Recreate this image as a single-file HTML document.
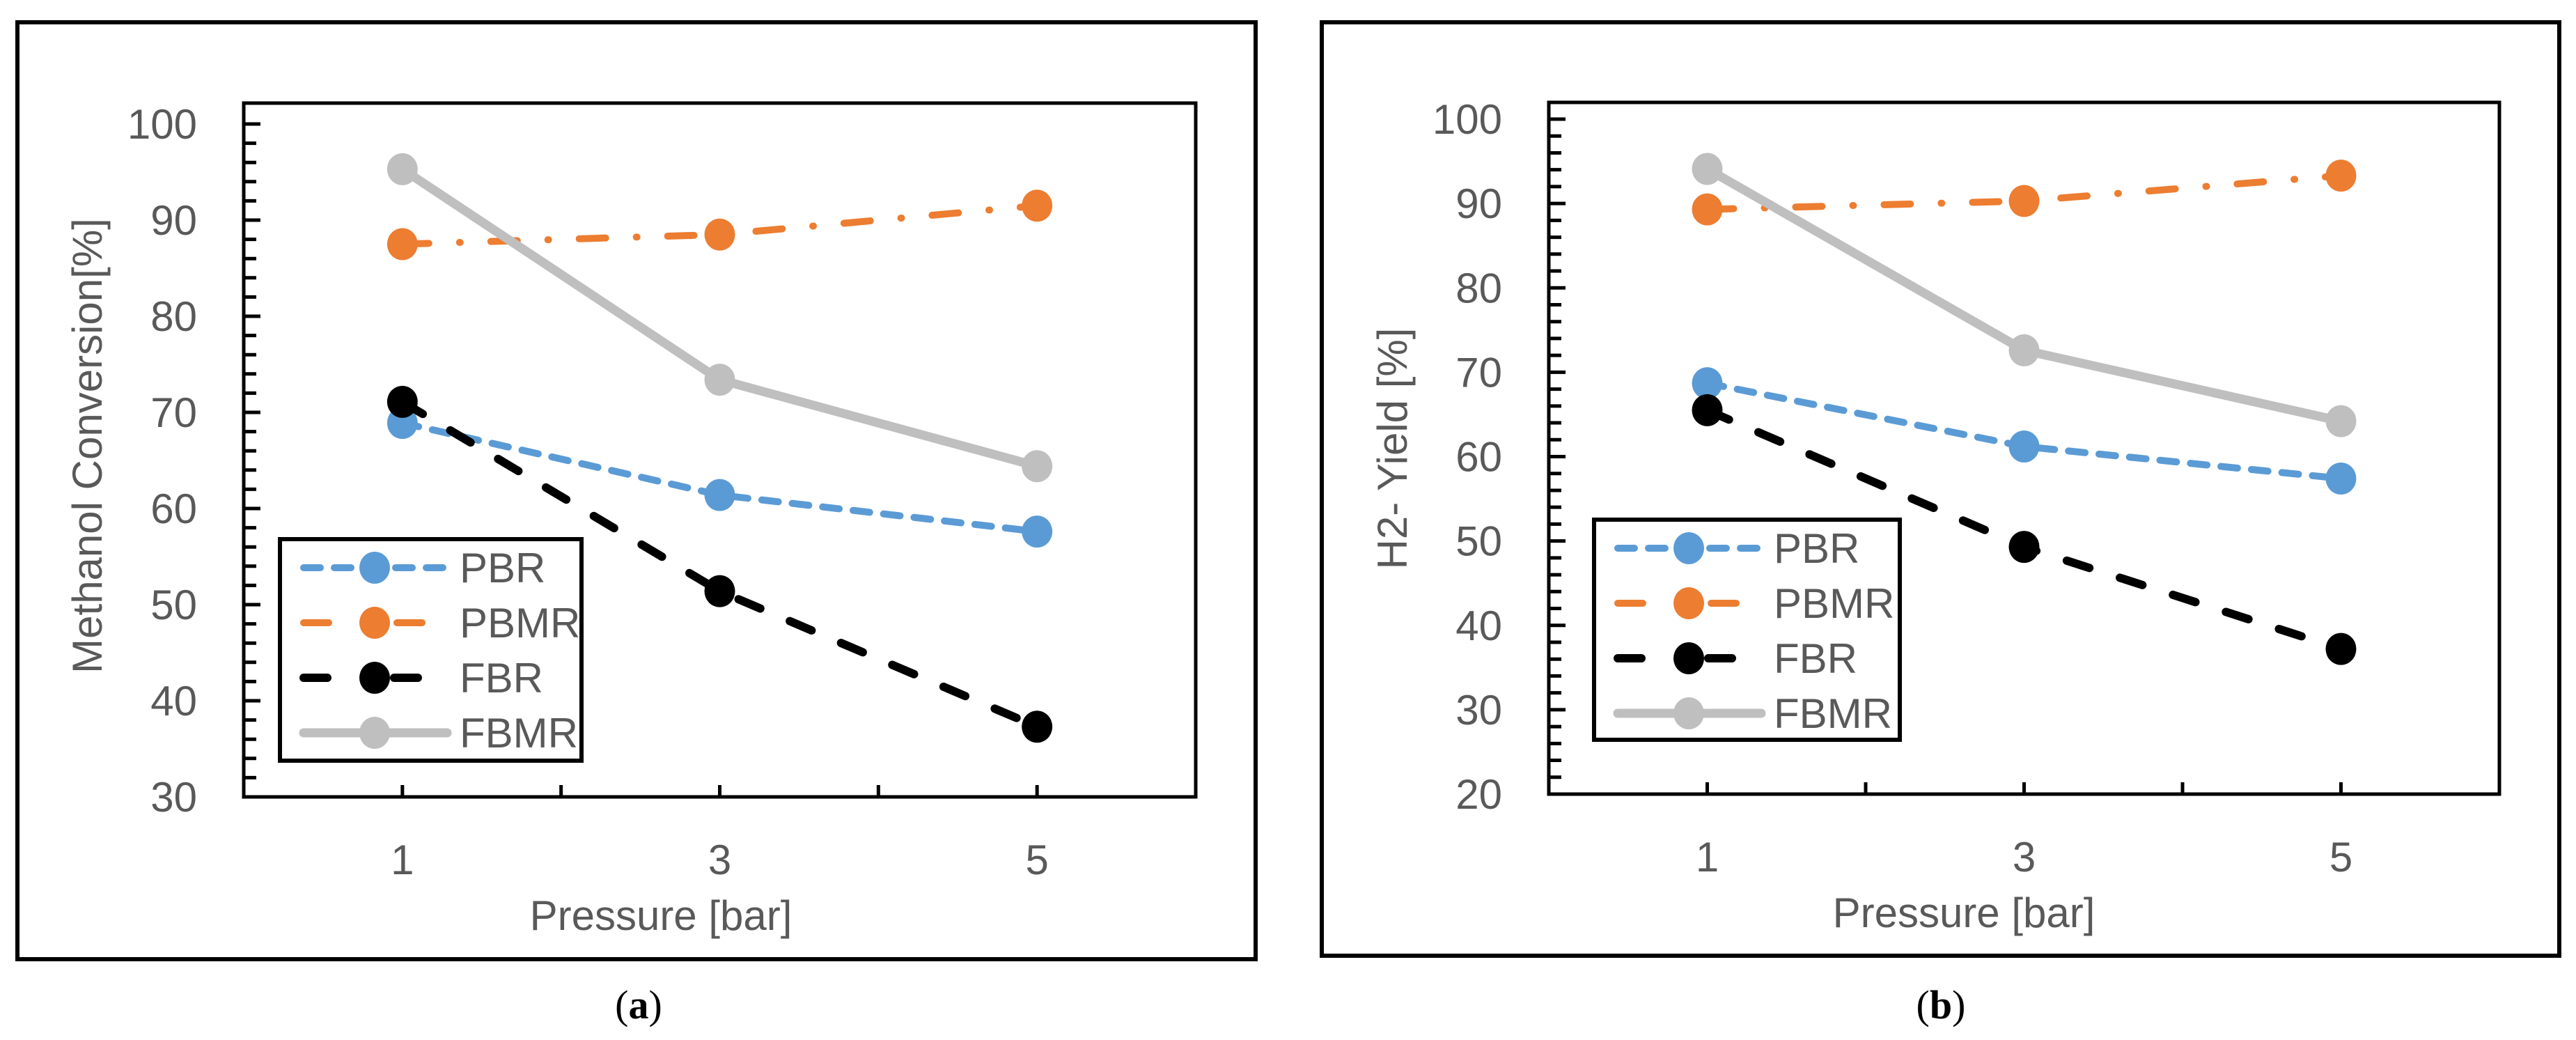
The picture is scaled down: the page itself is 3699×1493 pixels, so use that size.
<!DOCTYPE html>
<html><head><meta charset="utf-8">
<style>
html,body{margin:0;padding:0;background:#fff;}
svg{display:block;}
text{font-family:"Liberation Sans",sans-serif;fill:#595959;}
</style></head>
<body>
<svg id="chart" width="3699" height="1493" viewBox="0 0 3699 1493" xmlns="http://www.w3.org/2000/svg">
<rect x="0" y="0" width="3699" height="1493" fill="#fff"/>
</svg>
<script>
const categories = [1, 3, 5];
const seriesNames = ["PBR", "PBMR", "FBR", "FBMR"];
const convPBR = [68.9, 61.4, 57.6];
const convPBMR = [87.5, 88.5, 91.5];
const convFBR = [71.1, 51.4, 37.3];
const convFBMR = [95.3, 73.4, 64.4];
const yieldPBR = [68.7, 61.2, 57.4];
const yieldPBMR = [89.3, 90.3, 93.3];
const yieldFBR = [65.5, 49.3, 37.2];
const yieldFBMR = [94.1, 72.6, 64.2];
const convTicks = [30, 40, 50, 60, 70, 80, 90, 100];
const yieldTicks = [20, 30, 40, 50, 60, 70, 80, 90, 100];

const NS = "http://www.w3.org/2000/svg";
const svg = document.getElementById("chart");
function mk(tag, attrs, parent) {
  const e = document.createElementNS(NS, tag);
  for (const k in attrs) e.setAttribute(k, attrs[k]);
  (parent || svg).appendChild(e);
  return e;
}
const styles = [
  {color: "#5B9BD5", width: 10, dash: "24 20"},
  {color: "#ED7D31", width: 10, dash: "38 44 1 44"},
  {color: "#000000", width: 12, dash: "34 46"},
  {color: "#BFBFBF", width: 13, dash: "none"}
];

function panel(cfg) {
  const g = mk("g", {});
  
  
  const frame = mk("rect", {x: cfg.ox, y: cfg.oy, width: cfg.ow, height: cfg.oh, fill: "none", stroke: "#000", "stroke-width": 6}, g);
  
  
  const L = cfg.L, R = cfg.R, T = cfg.T, B = cfg.B;
  const ymin = cfg.ticks[0], ymax = cfg.ticks[cfg.ticks.length - 1];
  const yTop = cfg.y100;
  const ys = v => B - (v - ymin) * (B - yTop) / (ymax - ymin);
  const xs = v => L + v * (R - L) / 6;
  const pa = mk("rect", {x: L, y: T, width: R - L, height: B - T, fill: "none", stroke: "#000", "stroke-width": 5}, g);
  
  
  // minor ticks every 2
  for (let v = ymin; v <= ymax; v += 2) {
    const major = (v - ymin) % 10 === 0;
    const t = mk("line", {x1: L, x2: L + (major ? 24 : 18), y1: ys(v), y2: ys(v), stroke: "#000", "stroke-width": 5}, g);
    
    
  }
  cfg.ticks.forEach(v => {
    const t = mk("text", {x: L - 67, y: ys(v) + 21, "text-anchor": "end", "font-size": 60}, g);
    t.textContent = v;
    
    
  });
  for (let v = 1; v <= 5; v++) {
    const t = mk("line", {x1: xs(v), x2: xs(v), y1: B, y2: B - 17, stroke: "#000", "stroke-width": 5}, g);
    
    
  }
  categories.forEach(c => {
    const t = mk("text", {x: xs(c), y: B + 111, "text-anchor": "middle", "font-size": 60}, g);
    t.textContent = c;
    
    
  });
  const xt = mk("text", {x: cfg.xtx, y: B + 191, "text-anchor": "middle", "font-size": 60}, g);
  xt.textContent = "Pressure [bar]";
  
  
  const yt = mk("text", {x: 0, y: 0, "text-anchor": "middle", "font-size": 60, transform: `translate(${cfg.ytx},${cfg.yty}) rotate(-90)`}, g);
  yt.textContent = cfg.ytitle;
  
  
  // series
  cfg.series.forEach((vals, i) => {
    const st = styles[i];
    const sg = mk("g", {}, g);
    
    
    const pts = vals.map((v, j) => xs(categories[j]) + "," + ys(v)).join(" ");
    const pl = mk("polyline", {points: pts, fill: "none", stroke: st.color, "stroke-width": st.width, "stroke-dasharray": st.dash, "stroke-linecap": "round", "stroke-linejoin": "round"}, sg);
    
    
    vals.forEach((v, j) => {
      const c = mk("ellipse", {cx: xs(categories[j]), cy: ys(v), rx: 22, ry: 23, fill: st.color}, sg);
      
      
    });
  });
  // legend
  const lg = mk("g", {}, g);
  
  
  const lb = mk("rect", {x: cfg.lx, y: cfg.ly, width: cfg.lw, height: cfg.lh, fill: "#fff", stroke: "#000", "stroke-width": 6}, lg);
  
  
  seriesNames.forEach((n, i) => {
    const st = styles[i];
    const ry = cfg.ly + 41 + i * 79;
    const eg = mk("g", {}, lg);
    
    
    const x0 = cfg.lx + 34;
    mk("line", {x1: x0, x2: x0 + 206, y1: ry, y2: ry, stroke: st.color, "stroke-width": st.width, "stroke-dasharray": st.dash === "none" ? "none" : (i === 0 ? "24 20" : (i === 1 ? "36 98" : "34 96")), "stroke-linecap": "round"}, eg);
    mk("ellipse", {cx: x0 + 102, cy: ry, rx: 22, ry: 23, fill: st.color}, eg);
    const t = mk("text", {x: cfg.lx + 258, y: ry + 21, "font-size": 60}, eg);
    t.textContent = n;
  });
  const cap = mk("text", {x: cfg.capx, y: 1462, "text-anchor": "middle", "font-size": 58, style: "font-family:'Liberation Serif',serif;fill:#000"}, g);
  cap.innerHTML = '(<tspan font-weight="bold">' + cfg.cap + '</tspan>)';
  
  
}

panel({name: "panel-a-methanol-conversion", ox: 25, oy: 32, ow: 1778, oh: 1345,
  L: 350, R: 1717, T: 148, B: 1144, y100: 178, ticks: convTicks,
  ytitle: "Methanol Conversion[%]", ytx: 146, yty: 640, xtx: 949,
  series: [convPBR, convPBMR, convFBR, convFBMR],
  lx: 402, ly: 774, lw: 433, lh: 318, capx: 917, cap: "a"});
panel({name: "panel-b-h2-yield", ox: 1898, oy: 32, ow: 1777, oh: 1340,
  L: 2224, R: 3589, T: 147, B: 1140, y100: 171, ticks: yieldTicks,
  ytitle: "H2- Yield [%]", ytx: 2020, yty: 644, xtx: 2820,
  series: [yieldPBR, yieldPBMR, yieldFBR, yieldFBMR],
  lx: 2289, ly: 746, lw: 439, lh: 316, capx: 2787, cap: "b"});
</script>
</body></html>
